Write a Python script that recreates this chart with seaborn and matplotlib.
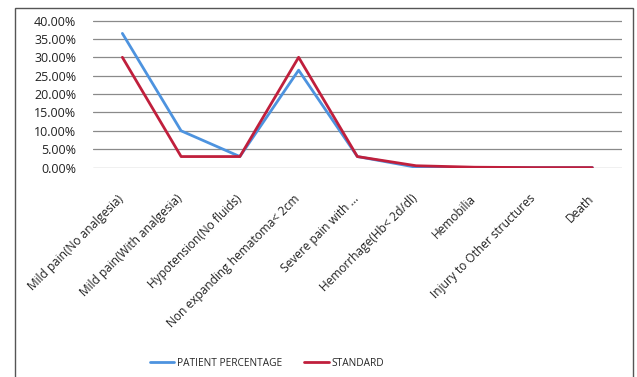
import matplotlib
matplotlib.use("Agg")
import matplotlib.pyplot as plt
from matplotlib.patches import Rectangle
from matplotlib.ticker import FuncFormatter
from matplotlib.transforms import ScaledTranslation
import seaborn as sns
import pandas as pd

categories = [
    "Mild pain(No analgesia)",
    "Mild pain(With analgesia)",
    "Hypotension(No fluids)",
    "Non expanding hematoma< 2cm",
    "Severe pain with ...",
    "Hemorrhage(Hb< 2d/dl)",
    "Hemobilia",
    "Injury to Other structures",
    "Death",
]
patient_percentage = [36.5, 10.0, 3.0, 26.5, 3.0, 0.1, 0.0, 0.0, 0.0]
standard = [30.0, 3.0, 3.0, 30.0, 3.0, 0.5, 0.1, 0.0, 0.0]
series_names = ["PATIENT PERCENTAGE", "STANDARD"]
y_ticks = [0, 5, 10, 15, 20, 25, 30, 35, 40]

df = pd.DataFrame({
    "pos": list(range(len(categories))) * 2,
    "value": patient_percentage + standard,
    "series": [series_names[0]] * len(categories) + [series_names[1]] * len(categories),
})

sns.set_theme(style="white")
plt.rcParams["font.family"] = ["Open Sans", "DejaVu Sans"]

fig = plt.figure(figsize=(6.37, 3.77), dpi=100)
ax = fig.add_axes([0.146, 0.554, 0.830, 0.393])

palette = {series_names[0]: "#4d93df", series_names[1]: "#c01f3c"}
sns.lineplot(data=df, x="pos", y="value", hue="series", palette=palette,
             linewidth=2.0, ax=ax, legend=False, zorder=3)

ax.set_xlim(-0.5, len(categories) - 0.5)
ax.set_yticks(y_ticks)
ax.set_ylim(-0.15, 40.15)
ax.yaxis.set_major_formatter(FuncFormatter(lambda v, _: f"{v:.2f}%"))
ax.grid(axis="y", color="#8a8a8a", linewidth=0.9)
ax.set_axisbelow(True)
for s in ax.spines.values():
    s.set_visible(False)
ax.tick_params(axis="y", length=0, pad=12, labelsize=9.0, colors="#222222")
ax.tick_params(axis="x", length=0, pad=13, labelsize=8.6, colors="#222222")
ax.set_xticks(range(len(categories)))
ax.set_xticklabels(categories, rotation=45, ha="right", rotation_mode="anchor")
shift = ScaledTranslation(-5 / 100, -6 / 100, fig.dpi_scale_trans)
for lbl in ax.get_xticklabels():
    lbl.set_transform(lbl.get_transform() + shift)
ax.set_xlabel("")
ax.set_ylabel("")

# outer chart frame
fig.patches.append(Rectangle((15 / 637, -0.05), (633 - 15) / 637, 1.05 - 8 / 377,
                             transform=fig.transFigure, fill=False,
                             edgecolor="#555555", linewidth=1.0))

handles = [plt.Line2D([], [], color=palette[n], linewidth=2.0) for n in series_names]
fig.legend(handles, series_names, loc="center", bbox_to_anchor=(267 / 637, 1 - 363 / 377),
           ncol=2, frameon=False, fontsize=7.3, handlelength=2.4, handletextpad=0.3,
           columnspacing=2.2)

fig.savefig("out.png", dpi=100)
